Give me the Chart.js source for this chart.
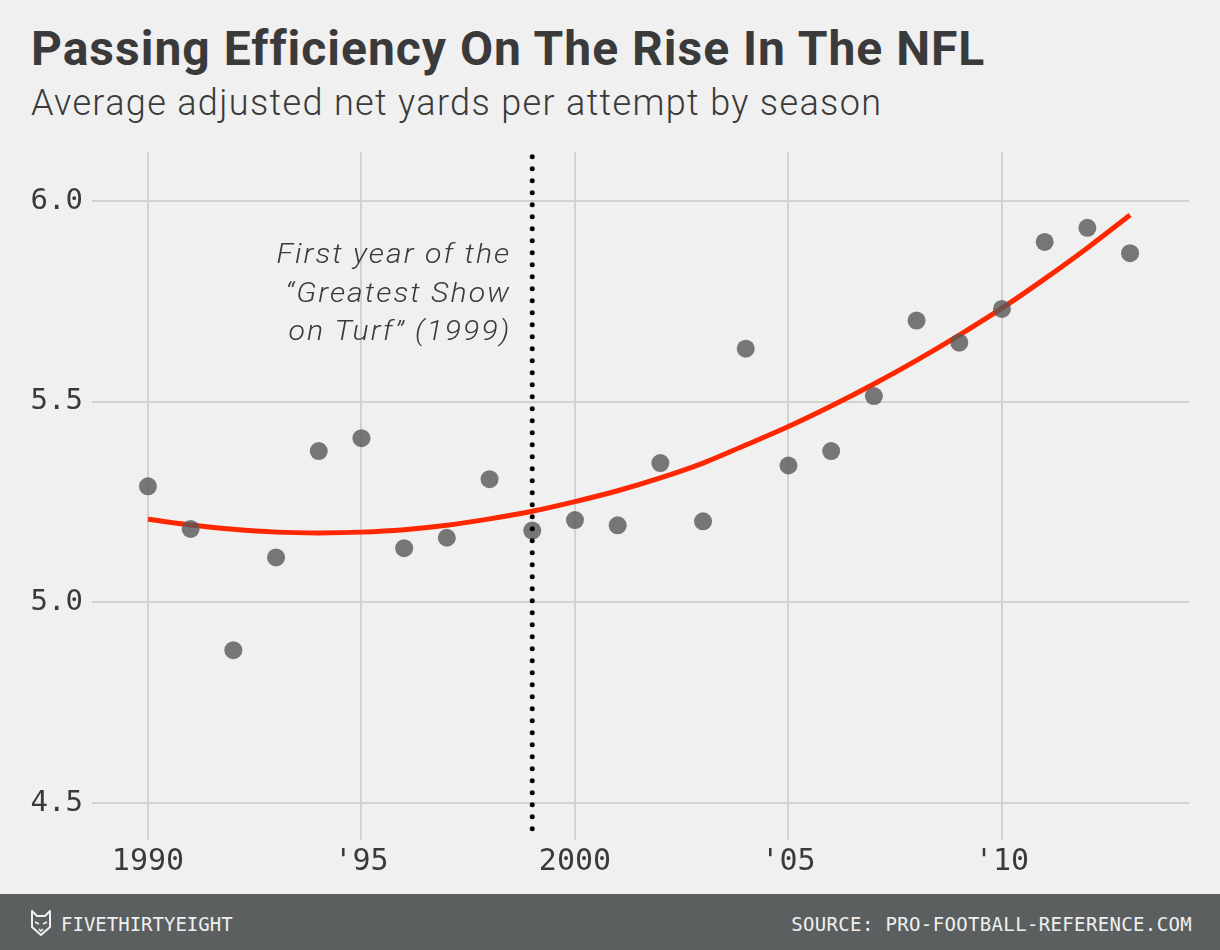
<!DOCTYPE html>
<html>
<head>
<meta charset="utf-8">
<script src="https://cdn.jsdelivr.net/npm/chart.js@4.4.1/dist/chart.umd.min.js"></script>
<style>
  html, body { margin: 0; padding: 0; background: #f0f0f0; }
  #page { position: relative; width: 1220px; height: 950px; overflow: hidden; background: #f0f0f0; }
  .title { position: absolute; left: 31px; top: 25px; font: 700 48px/48px Roboto, sans-serif; letter-spacing: 1px; color: #3a3a3a; white-space: nowrap; }
  .subtitle { position: absolute; left: 31px; top: 85px; font: 300 36px/36px Roboto, sans-serif; letter-spacing: 1.35px; color: #3a3a3a; white-space: nowrap; }
  #wrap { position: absolute; left: 0; top: 140px; width: 1220px; height: 750px; }
  .footer { position: absolute; left: 0; top: 894px; width: 1220px; height: 56px; background: #5b5f60; color: #f0f0f0; font: 19px/19px "DejaVu Sans Mono", monospace; }
  .footer .brand { position: absolute; left: 61px; top: 21px; }
  .footer .source { position: absolute; right: 28px; top: 21px; letter-spacing: 0.35px; }
  .footer svg { position: absolute; left: 30px; top: 15px; }
</style>
</head>
<body>
<div id="page">
  <div class="title">Passing Efficiency On The Rise In The NFL</div>
  <div class="subtitle">Average adjusted net yards per attempt by season</div>
  <div id="wrap"><canvas id="chart" width="1220" height="750"></canvas></div>
  <div class="footer">
    <svg width="22" height="28" viewBox="0 0 22 28">
      <path d="M2 2 L7 7 L15 7 L20 2 L20 18 L11 26 L2 18 Z" fill="none" stroke="#f0f0f0" stroke-width="2" stroke-linejoin="round"/>
      <path d="M5 13 L9 15 M17 13 L13 15 M9 20 L11 22 L13 20" fill="none" stroke="#f0f0f0" stroke-width="1.6"/>
    </svg>
    <span class="brand">FIVETHIRTYEIGHT</span>
    <span class="source">SOURCE: PRO-FOOTBALL-REFERENCE.COM</span>
  </div>
</div>
<script>
const seasons = [1990, 1991, 1992, 1993, 1994, 1995, 1996, 1997, 1998, 1999, 2000, 2001,
                 2002, 2003, 2004, 2005, 2006, 2007, 2008, 2009, 2010, 2011, 2012, 2013];
const anya = [5.289, 5.183, 4.881, 5.112, 5.377, 5.409, 5.135, 5.161, 5.307, 5.179, 5.205, 5.192,
              5.347, 5.202, 5.632, 5.341, 5.377, 5.514, 5.702, 5.647, 5.731, 5.898, 5.933, 5.870];
// smoothed trend (red line)
const trend = [5.207, 5.193, 5.182, 5.175, 5.173, 5.175, 5.181, 5.192, 5.208, 5.227, 5.251, 5.278,
               5.310, 5.347, 5.392, 5.438, 5.489, 5.544, 5.603, 5.666, 5.733, 5.806, 5.883, 5.965];

const xTicks = [1990, 1995, 2000, 2005, 2010];
const xTickLabels = ['1990', '\'95', '2000', '\'05', '\'10'];
const yTicks = [4.5, 5.0, 5.5, 6.0];
const yTickLabels = ['4.5', '5.0', '5.5', '6.0'];

const markerYear = 1999;
const markerRange = [6.11, 4.42];
const noteLines = ['First year of the', '\u201cGreatest Show', 'on Turf\u201d (1999)'];

const dotPoints = seasons.map((s, i) => ({ x: s, y: anya[i] }));
const trendPoints = seasons.map((s, i) => ({ x: s, y: trend[i] }));
const markerPoints = markerRange.map(v => ({ x: markerYear, y: v }));

// annotation text to the left of the dotted line
const notePlugin = {
  id: 'note',
  afterDatasetsDraw(chart) {
    const ctx = chart.ctx;
    const x = chart.scales.x.getPixelForValue(markerYear) - 21;
    const top = chart.chartArea.top;
    ctx.save();
    ctx.translate(x, top);
    ctx.scale(1.12, 1);
    ctx.font = 'italic 300 27px Roboto, sans-serif';
    ctx.letterSpacing = '1.8px';
    ctx.fillStyle = '#3a3a3a';
    ctx.textAlign = 'right';
    ctx.textBaseline = 'alphabetic';
    noteLines.forEach((line, i) => {
      ctx.fillText(line, 0, 111 + i * 38.5);
    });
    ctx.restore();
  }
};

new Chart(document.getElementById('chart'), {
  type: 'scatter',
  data: {
    datasets: [
      {
        label: 'Marker',
        data: markerPoints,
        showLine: true,
        borderColor: '#000000',
        borderWidth: 5,
        borderDash: [0, 12],
        borderCapStyle: 'round',
        pointRadius: 0,
        order: 0
      },
      {
        label: 'ANY/A',
        data: dotPoints,
        backgroundColor: 'rgba(88, 88, 88, 0.8)',
        borderWidth: 0,
        pointRadius: 9,
        pointHoverRadius: 9,
        order: 1
      },
      {
        label: 'Trend',
        data: trendPoints,
        showLine: true,
        borderColor: '#ff2700',
        borderWidth: 5,
        cubicInterpolationMode: 'monotone',
        pointRadius: 0,
        order: 2
      }
    ]
  },
  options: {
    responsive: false,
    animation: false,
    layout: { padding: { top: 12, right: 31, left: 0, bottom: 0 } },
    plugins: {
      legend: { display: false },
      tooltip: { enabled: false }
    },
    scales: {
      x: {
        type: 'linear',
        min: 1988.69,
        max: 2014.38,
        afterBuildTicks: scale => { scale.ticks = xTicks.map(v => ({ value: v })); },
        afterFit: scale => {
          scale.height = 50;
          scale.paddingLeft = 0;
          scale.paddingRight = 0;
        },
        ticks: {
          padding: 4,
          color: '#3a3a3a',
          font: { family: 'DejaVu Sans Mono', size: 30 },
          callback: v => xTickLabels[xTicks.indexOf(v)]
        },
        grid: { color: '#d2d2d2', lineWidth: 2, drawTicks: false },
        border: { display: false }
      },
      y: {
        min: 4.408,
        max: 6.122,
        afterBuildTicks: scale => { scale.ticks = yTicks.map(v => ({ value: v })); },
        afterFit: scale => {
          scale.width = 92;
          scale.paddingTop = 0;
          scale.paddingBottom = 0;
        },
        ticks: {
          padding: 9,
          color: '#3a3a3a',
          font: { family: 'DejaVu Sans Mono', size: 29 },
          callback: v => yTickLabels[yTicks.indexOf(v)]
        },
        grid: { color: '#d2d2d2', lineWidth: 2, drawTicks: false },
        border: { display: false }
      }
    }
  },
  plugins: [notePlugin]
});
</script>
</body>
</html>
